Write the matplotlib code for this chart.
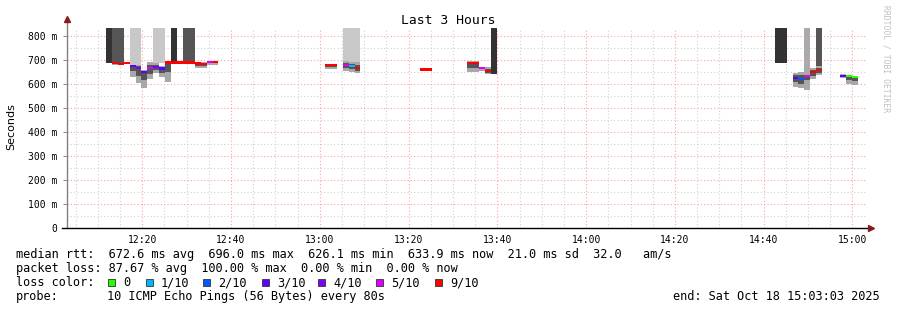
import numpy as np
import matplotlib
matplotlib.use("Agg")
import matplotlib.pyplot as plt
from matplotlib.patches import Rectangle

# ---------------- data ----------------
title = "Last 3 Hours"
start_time = "12:03:03"          # left edge of the graph
step0_time = "12:11:50"          # start of step index 0
step_seconds = 80

steps = [0, 1, 2, 3, 4, 5, 6, 7, 8, 9, 10, 11, 12, 13, 14, 15, 16, 17, 18,
         37, 38, 40, 41, 42, 53, 54, 61, 62, 63, 64, 65,
         113, 114, 116, 117, 118, 119, 120, 124, 125, 126]
nan = float("nan")
median_ms = [nan, 688, 683, 687, 675, 666, 650, 667, 670, 664, 689, 690, 690, 689, 689, 685, 683, 692, 692,
             678, 678, 680, 674, 666, 660, 660, 686, 686, 668, 654, nan,
             nan, nan, 626, 622, 633, 649, 658, 633, 633, 630]
loss_count = [10, 9, 9, 9, 3, 4, 3, 5, 4, 3, 9, 9, 9, 9, 9, 9, 9, 5, 9,
              9, 9, 5, 1, 9, 9, 9, 9, 9, 5, 9, 10,
              10, 10, 3, 2, 5, 9, 9, 3, 0, 0]
smoke_lo = [nan, 680, 678, 684, 631, 603, 582, 620, 644, 630, 610, nan, nan, nan, nan, 665, 665, 680, 680,
            661, 661, 655, 648, 644, 655, 655, 648, 648, 655, 640, nan,
            nan, nan, 589, 582, 600, 620, 637, 625, 600, 597]
smoke_hi = [nan, 690, 688, 690, 680, 680, 658, 690, 689, 675, 690, nan, nan, nan, nan, 692, 692, 695, 695,
            680, 680, 695, 690, 690, 662, 662, 697, 697, 672, 672, nan,
            nan, nan, 646, 649, 640, 665, 675, 640, 635, 633]
top_lo = [689, 689, 689, nan, 680, 680, nan, nan, 689, 689, nan, 689, nan, 689, 689, nan, nan, nan, nan,
          nan, nan, 693, 693, 693, nan, nan, nan, nan, nan, nan, 640,
          689, 689, nan, nan, 575, nan, 637, nan, nan, nan]
top_shade = ["#333333", "#555555", "#555555", "", "#c8c8c8", "#c8c8c8", "", "", "#c8c8c8", "#c8c8c8", "",
             "#333333", "", "#555555", "#555555", "", "", "", "",
             "", "", "#c8c8c8", "#c8c8c8", "#c8c8c8", "", "", "", "", "", "", "#333333",
             "#333333", "#333333", "", "", "#aaaaaa", "", "#555555", "", "", ""]

loss_labels = ["0", "1/10", "2/10", "3/10", "4/10", "5/10", "9/10"]
loss_colors = ["#26ff00", "#00b8ff", "#0059ff", "#5e00ff", "#7e00ff", "#dd00ff", "#ff0000"]

x_tick_labels = ["12:20", "12:40", "13:00", "13:20", "13:40", "14:00", "14:20", "14:40", "15:00"]
y_ticks = [0, 100, 200, 300, 400, 500, 600, 700, 800]
y_tick_labels = ["0", "100 m", "200 m", "300 m", "400 m", "500 m", "600 m", "700 m", "800 m"]
y_max = 833.3

legend_rows = [
    "median rtt:  672.6 ms avg  696.0 ms max  626.1 ms min  633.9 ms now  21.0 ms sd  32.0   am/s",
    "packet loss: 87.67 % avg  100.00 % max  0.00 % min  0.00 % now",
]
probe_text = "10 ICMP Echo Pings (56 Bytes) every 80s"
end_text = "end: Sat Oct 18 15:03:03 2025"

# ---------------- helpers ----------------
def to_min(s):
    parts = [int(p) for p in s.split(":")]
    if len(parts) == 2:
        parts.append(0)
    return parts[0] * 60 + parts[1] + parts[2] / 60.0

T0 = to_min(start_time)

def tmin(s):
    return to_min(s) - T0

def loss_color(n):
    if n <= 5:
        return loss_colors[n]
    return loss_colors[6]

W, H = 897, 310
fig = plt.figure(figsize=(W / 100, H / 100), dpi=100)
fig.patch.set_facecolor("white")
ax = fig.add_axes([67 / W, (H - 228) / H, 799 / W, 200 / H])
ax.set_xlim(0, 180)
ax.set_ylim(0, y_max)
for s in ax.spines.values():
    s.set_visible(False)

MONO = "DejaVu Sans Mono"

# grid
for m in range(5, 181, 5):
    clock = (to_min("12:00") + m)
    pos = clock - T0
    if pos <= 0 or pos >= 180:
        continue
    major = (int(round(clock)) % 20 == 0)
    ax.axvline(pos, color="#ff9f9f" if major else "#d2d2d2", lw=0.8,
               ls=(0, (1, 2)), zorder=0)
for v in range(50, 850, 50):
    major = v % 100 == 0
    ax.axhline(v, color="#ff9f9f" if major else "#d2d2d2", lw=0.8,
               ls=(0, (1, 2)), zorder=0)

step_w = step_seconds / 60.0
x_left = tmin(step0_time) + np.array(steps) * step_w

# top bars
for x, lo, sh in zip(x_left, top_lo, top_shade):
    if not np.isnan(lo):
        ax.bar(x, y_max - lo, width=step_w, bottom=lo, align="edge", color=sh, lw=0, zorder=2)

# smoke
for x, lo, hi, med in zip(x_left, smoke_lo, smoke_hi, median_ms):
    if np.isnan(lo):
        continue
    ax.bar(x, hi - lo, width=step_w, bottom=lo, align="edge", color="#a8a8a8", lw=0, zorder=3)
    if not np.isnan(med):
        ilo, ihi = (lo + med) / 2, (hi + med) / 2
    else:
        ilo, ihi = lo, hi
    ax.bar(x, ihi - ilo, width=step_w, bottom=ilo, align="edge", color="#555555", lw=0, zorder=3)

# median
for x, med, n in zip(x_left, median_ms, loss_count):
    if np.isnan(med):
        continue
    ax.bar(x, 9.5, width=step_w, bottom=med - 4.75, align="edge", color=loss_color(n), lw=0, zorder=4)

# ticks
ax.set_xticks([tmin(t) for t in x_tick_labels])
ax.set_xticklabels(x_tick_labels, fontfamily=MONO, fontsize=7)
ax.set_yticks(y_ticks)
ax.set_yticklabels(y_tick_labels, fontfamily=MONO, fontsize=7)
ax.tick_params(axis="x", length=0, pad=5)
ax.tick_params(axis="y", length=3, width=0.7, color="#909090", pad=4, direction="out")

# axis lines and arrows
ax.plot([0, 0], [0, 1 + 8 / 200], transform=ax.transAxes, color="#808080", lw=1, clip_on=False, zorder=5)
ax.plot([-5 / 799, 1 + 4 / 799], [0, 0], transform=ax.transAxes, color="black", lw=1, clip_on=False, zorder=5)
ax.plot([0], [1 + 9 / 200], transform=ax.transAxes, marker="^", ms=4, color="#8b1a1a", clip_on=False, zorder=6)
ax.plot([1 + 5 / 799], [0], transform=ax.transAxes, marker=">", ms=4, color="#8b1a1a", clip_on=False, zorder=6)

# texts
def fx(px):
    return px / W

def fy(py):
    return 1 - py / H

fig.text(fx(448), fy(24), title, ha="center", va="baseline", fontfamily=MONO, fontsize=9.4)
fig.text(fx(11), fy(127), "Seconds", ha="center", va="center", rotation=90, fontfamily="DejaVu Sans", fontsize=8)
fig.text(fx(886), fy(5), "RRDTOOL / TOBI OETIKER", ha="center", va="top", rotation=270,
         fontfamily=MONO, fontsize=5.8, color="#c0c0c0")

LF = 8.6
fig.text(fx(16), fy(258), legend_rows[0], ha="left", va="baseline", fontfamily=MONO, fontsize=LF)
fig.text(fx(16), fy(272), legend_rows[1], ha="left", va="baseline", fontfamily=MONO, fontsize=LF)
fig.text(fx(16), fy(286), "loss color:", ha="left", va="baseline", fontfamily=MONO, fontsize=LF)
sw_x = [108, 146, 203, 262, 318, 376, 435]
for sx, lab, col in zip(sw_x, loss_labels, loss_colors):
    fig.add_artist(Rectangle((fx(sx), fy(286)), 7 / W, 7 / H, transform=fig.transFigure,
                             facecolor=col, edgecolor="#333333", lw=0.6))
    fig.text(fx(sx + 15), fy(286), lab, ha="left", va="baseline", fontfamily=MONO, fontsize=LF)
fig.text(fx(16), fy(300), "probe:", ha="left", va="baseline", fontfamily=MONO, fontsize=LF)
fig.text(fx(107), fy(300), probe_text, ha="left", va="baseline", fontfamily=MONO, fontsize=LF)
fig.text(fx(880), fy(300), end_text, ha="right", va="baseline", fontfamily=MONO, fontsize=LF)

fig.savefig("out.png", dpi=100, facecolor="white")
